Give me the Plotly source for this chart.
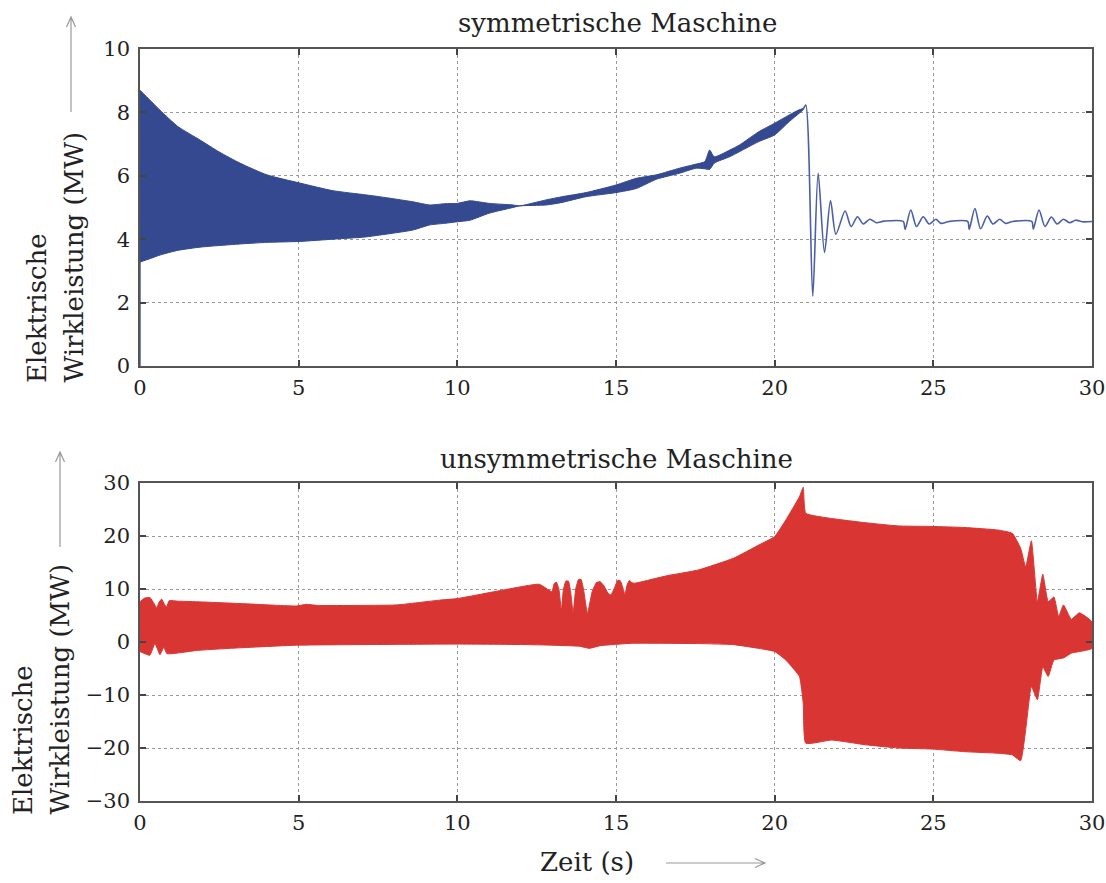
import plotly.graph_objects as go

# ---------------- data ----------------
# symmetric machine: envelope of the dense oscillation band (MW)
sym_env_t = [0.0, 0.3, 0.63, 1.2, 1.89, 2.5, 3.15, 4.0, 5.04, 6.08, 7.1, 7.55, 8.6, 9.13, 9.6, 10.0,
             10.4, 11.0, 11.75, 11.95, 12.8, 13.3, 14.05, 15.0, 15.64, 16.27, 17.0, 17.53, 17.8,
             17.95, 18.1, 18.58, 18.89, 19.5, 20.0, 20.46, 20.77, 20.9]
sym_upper = [8.7, 8.4, 8.07, 7.55, 7.13, 6.75, 6.4, 6.03, 5.77, 5.53, 5.4, 5.34, 5.18, 5.08, 5.12, 5.13,
             5.21, 5.13, 5.08, 5.05, 5.24, 5.34, 5.47, 5.71, 5.92, 6.03, 6.24, 6.37, 6.45,
             6.81, 6.6, 6.81, 6.97, 7.39, 7.66, 7.92, 8.08, 8.12]
sym_lower = [3.28, 3.38, 3.5, 3.65, 3.75, 3.8, 3.85, 3.9, 3.93, 4.0, 4.07, 4.13, 4.29, 4.45, 4.5, 4.55,
             4.6, 4.82, 5.0, 5.05, 5.08, 5.16, 5.34, 5.47, 5.6, 5.89, 6.08, 6.24, 6.22,
             6.2, 6.4, 6.6, 6.76, 7.08, 7.29, 7.71, 7.97, 8.08]
sym_start_t = [0.0, 0.0]
sym_start_p = [0.0, 3.28]
# symmetric machine after the transition: damped oscillations (MW)
sym_tail_t = [20.9, 20.98, 21.2, 21.37, 21.57, 21.76, 21.93, 22.22, 22.41, 22.61, 22.79, 23.0, 23.2,
              23.45, 24.05, 24.11, 24.29, 24.47, 24.68, 24.87, 25.08, 25.24, 25.5, 26.08, 26.13,
              26.31, 26.49, 26.7, 26.88, 27.09, 27.27, 27.5, 28.1, 28.15, 28.33, 28.52, 28.72,
              28.9, 29.1, 29.3, 29.48, 29.7, 30.0]
sym_tail_p = [8.1, 8.23, 2.2, 6.08, 3.58, 5.22, 4.16, 4.89, 4.4, 4.71, 4.48, 4.63, 4.52,
              4.57, 4.56, 4.31, 4.92, 4.4, 4.71, 4.48, 4.63, 4.5, 4.56, 4.56, 4.31,
              4.97, 4.33, 4.73, 4.48, 4.63, 4.5, 4.56, 4.56, 4.32, 4.92, 4.4, 4.7,
              4.48, 4.63, 4.52, 4.6, 4.55, 4.56]

# unsymmetric machine: envelopes of the dense oscillation band (MW)
uns_up_t = [0.0, 0.15, 0.31, 0.45, 0.52, 0.6, 0.68, 0.78, 0.84, 0.92, 1.2, 1.78, 3.36, 4.93, 5.25,
            5.6, 8.08, 9.44, 10.0, 11.53, 12.58, 12.98, 13.05, 13.12, 13.2, 13.28, 13.34, 13.42,
            13.5, 13.57, 13.65, 13.73, 13.82, 13.9, 13.98, 14.1, 14.25, 14.38, 14.5, 14.62, 14.75,
            14.84, 14.95, 15.05, 15.13, 15.22, 15.28, 15.35, 15.42, 15.5, 15.6, 16.6, 17.6, 18.7,
            19.5, 20.0, 20.35, 20.78, 20.9, 20.98, 21.8, 22.87, 23.9, 24.97, 26.0, 27.07, 27.49,
            27.75, 27.91, 28.09, 28.28, 28.45, 28.62, 28.8, 28.95, 29.1, 29.35, 29.6, 30.0]
uns_upper = [7.6, 8.3, 8.4, 7.2, 6.4, 7.5, 8.1, 7.0, 6.7, 7.8, 7.7, 7.6, 7.2, 6.8, 7.1,
             6.9, 7.0, 7.9, 8.2, 9.9, 10.9, 9.5, 11.0, 11.3, 10.0, 6.0, 9.8, 11.5,
             11.5, 9.5, 5.5, 10.0, 11.8, 11.8, 9.8, 5.4, 9.5, 11.2, 11.4, 10.6, 9.2,
             8.9, 10.2, 11.6, 11.6, 10.2, 8.9, 10.8, 11.6, 11.2, 11.1, 12.5, 13.6, 15.8,
             18.3, 19.9, 23.0, 27.4, 29.2, 24.3, 23.3, 22.5, 21.9, 21.8, 21.6, 21.1, 20.5,
             17.7, 14.2, 19.1, 7.6, 12.8, 7.6, 8.5, 4.8, 7.0, 4.3, 5.5, 3.8]
uns_lo_t = [0.0, 0.31, 0.47, 0.63, 0.75, 0.85, 1.78, 2.83, 4.93, 8.08, 10.0, 12.28, 13.85, 14.16,
            14.5, 15.5, 17.6, 18.7, 19.5, 20.0, 20.35, 20.78, 20.9, 20.98, 21.8, 22.87, 23.9,
            24.97, 26.0, 27.07, 27.49, 27.75, 27.91, 28.09, 28.28, 28.45, 28.62, 28.8, 29.1,
            29.35, 30.0]
uns_lower = [-1.8, -2.5, -0.3, -2.4, -1.0, -2.2, -1.6, -1.2, -0.6, -0.45, -0.4, -0.5, -0.8, -1.2,
             -0.7, -0.25, -0.3, -0.5, -1.2, -1.8, -3.4, -6.5, -11.5, -19.1, -18.5, -19.4, -20.0,
             -20.2, -20.7, -21.0, -21.3, -22.4, -16.6, -8.4, -10.9, -4.7, -6.5, -3.4, -3.0,
             -2.1, -1.2]

x_ticks = [0, 5, 10, 15, 20, 25, 30]
sym_y_ticks = [0, 2, 4, 6, 8, 10]
uns_y_ticks = [-30, -20, -10, 0, 10, 20, 30]

# ---------------- styling ----------------
W, H = 1106, 883
BLUE = "#34498f"
BLUE_LINE = "#4a5fa8"
RED = "#d93633"
FONT = "DejaVu Serif"
TXT = "#222222"


def px(x):
    return x / W


def py(y):
    return 1 - y / H


fig = go.Figure()

# top: symmetric machine
fig.add_trace(go.Scatter(
    x=sym_env_t + sym_env_t[::-1], y=sym_upper + sym_lower[::-1],
    fill="toself", fillcolor=BLUE, mode="lines",
    line=dict(color=BLUE, width=1, shape="spline", smoothing=0.6),
    xaxis="x", yaxis="y", showlegend=False, hoverinfo="skip"))
fig.add_trace(go.Scatter(
    x=sym_start_t, y=sym_start_p, mode="lines", line=dict(color=BLUE_LINE, width=1.5),
    xaxis="x", yaxis="y", showlegend=False))
fig.add_trace(go.Scatter(
    x=sym_tail_t, y=sym_tail_p, mode="lines",
    line=dict(color=BLUE_LINE, width=1.6, shape="spline", smoothing=0.8),
    xaxis="x", yaxis="y", showlegend=False))

# bottom: unsymmetric machine
fig.add_trace(go.Scatter(
    x=uns_up_t + uns_lo_t[::-1], y=uns_upper + uns_lower[::-1],
    fill="toself", fillcolor=RED, mode="lines",
    line=dict(color=RED, width=1, shape="spline", smoothing=0.4),
    xaxis="x2", yaxis="y2", showlegend=False, hoverinfo="skip"))

x_dom = [px(140), px(1092)]
axis_common = dict(
    showline=True, linecolor="#555555", linewidth=1.5, mirror="ticks",
    ticks="inside", ticklen=6, tickcolor="#444444", tickwidth=1.5,
    showgrid=True, gridcolor="#9a9a9a", griddash="dot", gridwidth=1,
    zeroline=False, automargin=False, ticklabeloverflow="allow",
    tickfont=dict(family=FONT, size=21, color=TXT),
)

fig.update_layout(
    width=W, height=H, autosize=False,
    margin=dict(l=0, r=0, t=0, b=0, pad=0),
    paper_bgcolor="white", plot_bgcolor="white",
    xaxis=dict(domain=x_dom, range=[0, 30], tickvals=x_ticks, anchor="y", ticklabelstandoff=2, **axis_common),
    yaxis=dict(domain=[py(366), py(49)], range=[0, 10], tickvals=sym_y_ticks, anchor="x", ticklabelstandoff=4, **axis_common),
    xaxis2=dict(domain=x_dom, range=[0, 30], tickvals=x_ticks, anchor="y2", ticklabelstandoff=2, **axis_common),
    yaxis2=dict(domain=[py(801), py(483)], range=[-30, 30], tickvals=uns_y_ticks, anchor="x2", ticklabelstandoff=4, **axis_common),
)

ann_font = dict(family=FONT, size=26, color=TXT)
annotations = [
    dict(text="symmetrische Maschine", x=px(617), y=py(23), xanchor="center", yanchor="middle"),
    dict(text="unsymmetrische Maschine", x=px(616), y=py(459), xanchor="center", yanchor="middle"),
    dict(text="Zeit (s)", x=px(587), y=py(862), xanchor="center", yanchor="middle"),
    dict(text="Elektrische", x=px(37), y=py(385), xanchor="center", yanchor="bottom", textangle=-90),
    dict(text="Wirkleistung (MW)", x=px(73), y=py(385), xanchor="center", yanchor="bottom", textangle=-90),
    dict(text="Elektrische", x=px(23), y=py(817), xanchor="center", yanchor="bottom", textangle=-90),
    dict(text="Wirkleistung (MW)", x=px(59), y=py(817), xanchor="center", yanchor="bottom", textangle=-90),
]
for a in annotations:
    a.update(xref="paper", yref="paper", showarrow=False, font=ann_font)
fig.update_layout(annotations=annotations)


def arrow_path(x0, y0, x1, y1, a1x, a1y, a2x, a2y):
    return (f"M {px(x0)},{py(y0)} L {px(x1)},{py(y1)} "
            f"M {px(a1x)},{py(a1y)} L {px(x1)},{py(y1)} L {px(a2x)},{py(a2y)}")


arrow_style = dict(type="path", xref="paper", yref="paper", line=dict(color="#9a9a9a", width=1.2))
fig.update_layout(shapes=[
    dict(path=arrow_path(71, 112, 71, 17, 66.5, 27, 75.5, 27), **arrow_style),
    dict(path=arrow_path(60, 547, 60, 452, 55.5, 462, 64.5, 462), **arrow_style),
    dict(path=arrow_path(666, 863, 765, 863, 755, 858.5, 755, 867.5), **arrow_style),
])

fig.write_html("out.html")
